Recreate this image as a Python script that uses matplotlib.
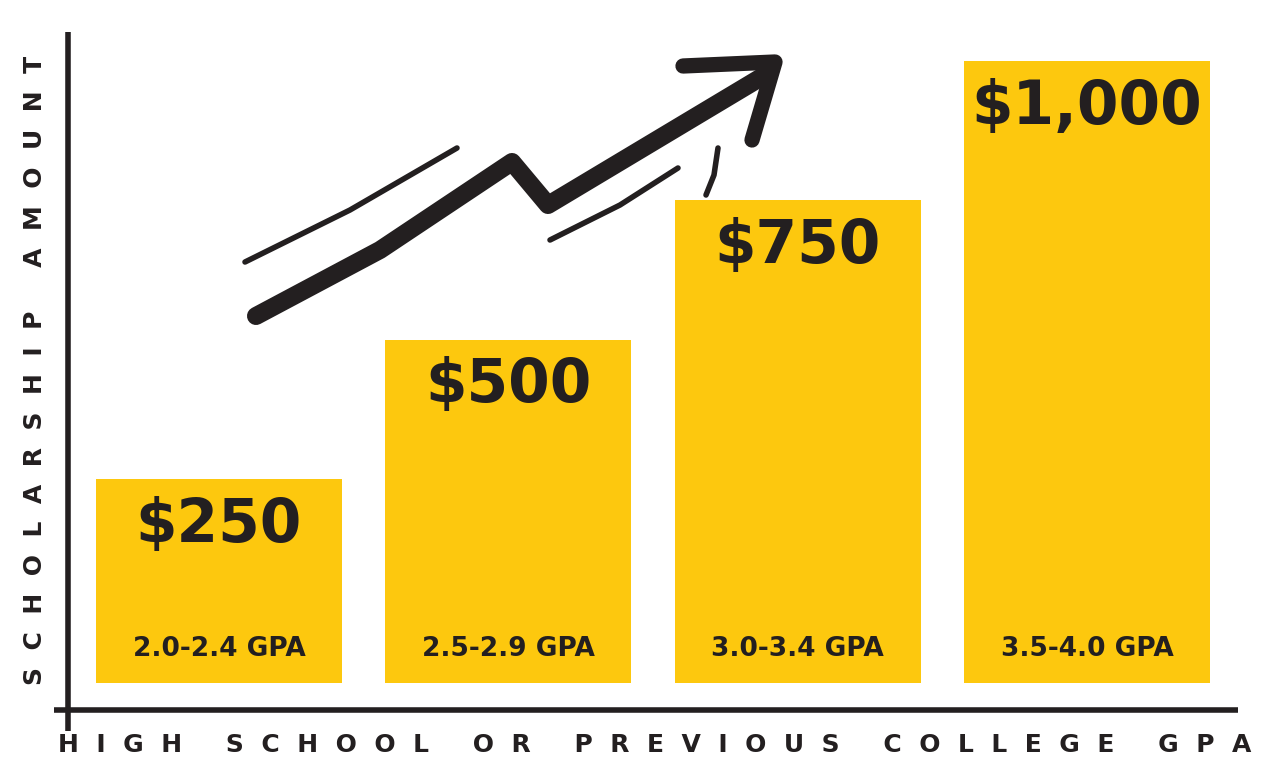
import matplotlib
matplotlib.use("Agg")
import matplotlib.pyplot as plt
import numpy as np

categories = ["2.0-2.4 GPA", "2.5-2.9 GPA", "3.0-3.4 GPA", "3.5-4.0 GPA"]
amounts = [250, 500, 750, 1000]
amount_labels = ["$250", "$500", "$750", "$1,000"]

YEL = "#FDC80E"
INK = "#231F20"

fig = plt.figure(figsize=(12.7, 7.79), dpi=100)
ax = fig.add_axes([0, 0, 1, 1])
ax.set_xlim(0, 1270)
ax.set_ylim(779, 0)
ax.axis("off")

base = 683
scale = 0.5573
offset = 64.6
xs = 219 + np.arange(len(categories)) * 289.3
heights = [offset + a * scale for a in amounts]
ax.bar(xs, [-h for h in heights], bottom=base, width=246, color=YEL)
for x, h, lab, cat in zip(xs, heights, amount_labels, categories):
    ax.text(x, base - h + 46, lab, ha="center", va="center", fontsize=43,
            fontweight="bold", color=INK)
    ax.text(x, 649, cat, ha="center", va="center", fontsize=19,
            fontweight="bold", color=INK)

# axes lines
ax.plot([68, 68], [32, 731], color=INK, lw=4, solid_capstyle="butt")
ax.plot([54, 1238], [710, 710], color=INK, lw=4, solid_capstyle="butt")

def spaced(s, gap="  ", wgap="     "):
    return wgap.join(gap.join(w) for w in s.split(" "))

ax.text(35, 370, spaced("SCHOLARSHIP AMOUNT"), rotation=90,
        ha="center", va="center", fontsize=18, fontweight="bold", color=INK)
ax.text(655, 745, spaced("HIGH SCHOOL OR PREVIOUS COLLEGE GPA"),
        ha="center", va="center", fontsize=18, fontweight="bold", color=INK)

# hand-drawn arrow
ax.plot([256, 380, 512, 548, 765], [316, 250, 162, 205, 75], color=INK, lw=13,
        solid_capstyle="round", solid_joinstyle="round")
ax.plot([683, 775, 752], [66, 62, 140], color=INK, lw=11,
        solid_capstyle="round", solid_joinstyle="round")
ax.plot([245, 350, 457], [262, 210, 148], color=INK, lw=4, solid_capstyle="round")
ax.plot([550, 620, 678], [240, 205, 168], color=INK, lw=4, solid_capstyle="round")
ax.plot([706, 714, 718], [195, 175, 148], color=INK, lw=4, solid_capstyle="round")

fig.savefig("out.png", dpi=100, facecolor="white")
